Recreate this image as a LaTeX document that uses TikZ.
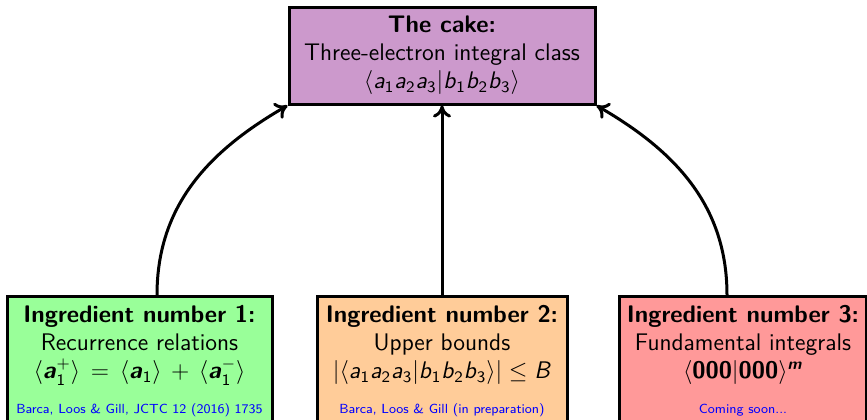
\documentclass[tikz,border=0pt]{standalone}
\usepackage{amsmath, amssymb}
\usetikzlibrary{arrows.meta}

\definecolor{cakefill}{RGB}{204,153,204}
\definecolor{ingonefill}{RGB}{153,255,153}
\definecolor{ingtwofill}{RGB}{255,204,153}
\definecolor{ingthreefill}{RGB}{255,153,153}

% sans italic letters for the integrals
\newcommand{\sv}[1]{\text{\textit{#1}}}
\newcommand{\bsv}[1]{\text{\textbf{\textit{#1}}}}
\newcommand{\va}[1]{\sv{a}_{\text{#1}}}
\newcommand{\vb}[1]{\sv{b}_{\text{#1}}}
\newcommand{\bra}[1]{\bsv{a}_{\text{#1}}}

\begin{document}
\begin{tikzpicture}[font=\sffamily\large,x=0.5pt,y=0.5pt]
    \tikzset{
        box/.style={
            draw,line width=1.5pt,
            inner sep=3pt,align=center
        },
        cake/.style={box,fill=cakefill,minimum width=153pt,minimum height=48.5pt},
        ingredient/.style={box,anchor=north,inner ysep=4.5pt,text depth=9pt},
        link/.style={-{To[length=6pt,width=9pt]},line width=1.5pt}
    }

    \useasboundingbox (0,0) rectangle (867,419);

    \node[cake] (cake) at (442,363.5)
        {\textbf{The cake:}\\Three-electron integral class\\
         $\langle \va1\va2\va3|\vb1\vb2\vb3\rangle$};

    \node[ingredient,fill=ingonefill,minimum width=132.5pt] (ing1) at (139.5,124)
        {\textbf{Ingredient number 1:}\\Recurrence relations\\
         $\langle \bra1^+\rangle \,=\, \langle \bra1\rangle \,+\, \langle \bra1^-\rangle$\\[3.5pt]
         \textcolor{blue}{\fontsize{6.6}{8}\selectfont Barca, Loos \& Gill, JCTC 12 (2016) 1735}};
    \node[ingredient,fill=ingtwofill,minimum width=125pt] (ing2) at (442,124)
        {\textbf{Ingredient number 2:}\\Upper bounds\\
         $|\langle \va1\va2\va3|\vb1\vb2\vb3\rangle| \leq \sv{B}$\\[3.5pt]
         \textcolor{blue}{\fontsize{6.6}{8}\selectfont Barca, Loos \& Gill (in preparation)}};
    \node[ingredient,fill=ingthreefill,minimum width=123.5pt] (ing3) at (743,124)
        {\textbf{Ingredient number 3:}\\Fundamental integrals\\
         $\langle\textbf{000}|\textbf{000}\rangle^{\bsv{m}}$\\[3.5pt]
         \textcolor{blue}{\fontsize{6.6}{8}\selectfont Coming soon...}};

    \draw[link] ([xshift=8.75pt]ing1.north) to[out=90,in=-150] (cake.south west);
    \draw[link] (ing2.north) -- (cake.south);
    \draw[link] ([xshift=-8pt]ing3.north) to[out=90,in=-30] (cake.south east);
\end{tikzpicture}
\end{document}
